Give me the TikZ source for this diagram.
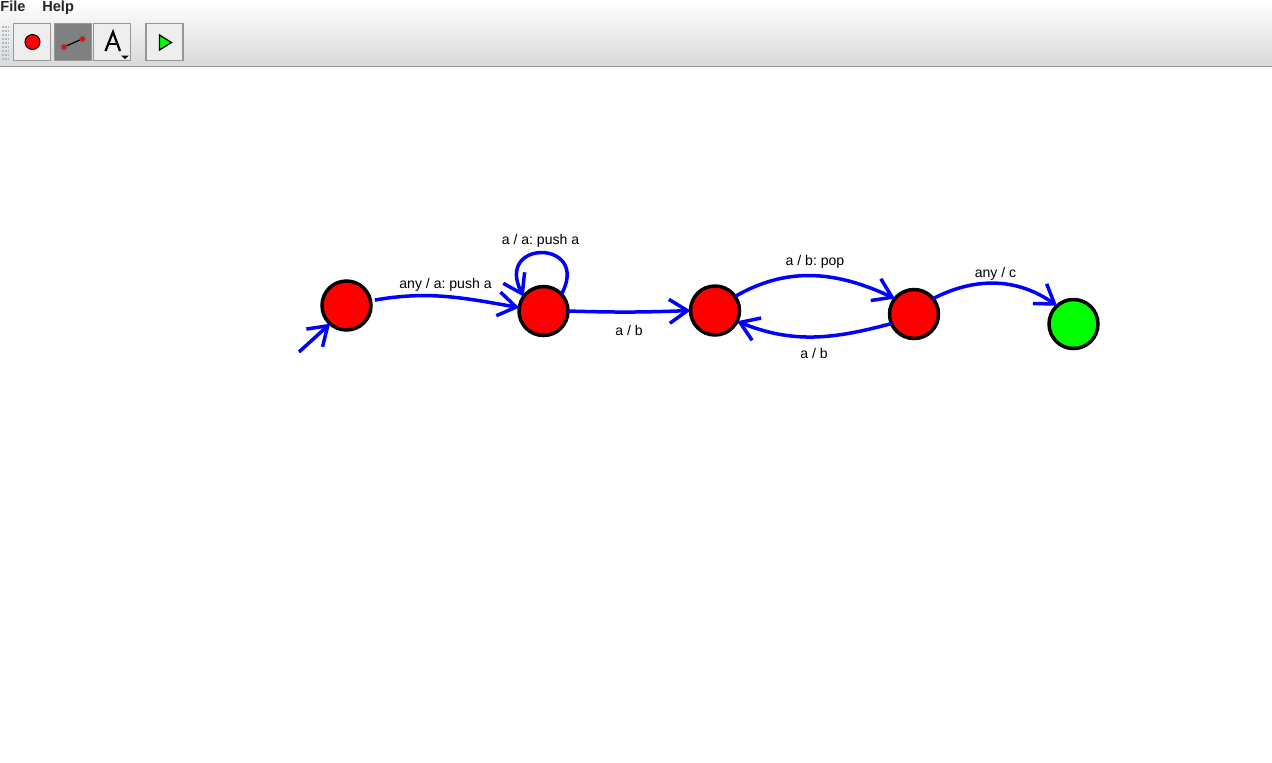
\documentclass[tikz,border=0pt]{standalone}
\usepackage{fontspec}
\setmainfont{Liberation Sans}
\usetikzlibrary{arrows.meta}
\definecolor{edgeblue}{RGB}{0,0,255}
\definecolor{barface}{RGB}{238,238,238}
\definecolor{barpress}{RGB}{128,128,128}
\definecolor{barline}{RGB}{150,150,150}
\definecolor{griptone}{RGB}{170,185,200}
\tikzset{
  state/.style={circle,draw=black,fill=red,line width=0.07cm,minimum size=0.98cm,inner sep=0pt,outer sep=0pt},
  trans/.style={draw=edgeblue,line width=0.07cm,-{Straight Barb[length=0.36cm,width=0.48cm,line width=0.07cm]}},
  lbl/.style={font=\fontsize{8pt}{9pt}\selectfont\frenchspacing,inner sep=0pt},
  menu/.style={font=\fontsize{8.3pt}{9pt}\selectfont\bfseries,text=black!85,inner sep=0pt},
  btn/.style={draw=barline,fill=barface,line width=0.03cm,minimum size=0.74cm,inner sep=0pt,outer sep=0pt}
}
\begin{document}
\begin{tikzpicture}[x=0.02cm,y=0.02cm]
\useasboundingbox (0,-762) rectangle (1272,0);
\clip (0,-762) rectangle (1272,0);
\fill[white] (0,-762) rectangle (1272,0);
% toolbar
\shade[top color=white,bottom color=black!15] (0,-66) rectangle (1272,0);
\draw[barline,line width=0.03cm] (0,-66.5)--(1272,-66.5);
\foreach \gx in {2.5,5,7.5}
  \foreach \gy in {26,30,...,60}
    \fill[griptone] (\gx,-\gy) rectangle +(1.5,-1.5);
\node[menu,anchor=base west] (filemenu) at (0,-11) {File};
\node[menu,anchor=base west] (helpmenu) at (42,-11) {Help};
\node[btn] (btnstate) at (32,-42) {};
\node[btn,fill=barpress] (btnedge) at (73,-42) {};
\node[btn] (btntext) at (112,-42) {};
\node[btn] (btnrun) at (164.5,-42) {};
% icons
\filldraw[draw=black,fill=red,line width=0.02cm] (32.5,-42) circle (7.5);
\draw[black,line width=0.025cm] (64,-47)--(82,-39);
\filldraw[draw=black!60,fill=red,line width=0.01cm] (64,-47) circle (2.8);
\filldraw[draw=black!60,fill=red,line width=0.01cm] (82.5,-39) circle (2.8);
\draw[black,line width=0.045cm] (105.5,-51)--(113,-32)--(120,-51);
\draw[black,line width=0.045cm] (108,-44)--(118,-44);
\fill[black] (121,-55.5)--(129,-55.5)--(125,-59)--cycle;
\filldraw[draw=black,fill=green,line width=0.025cm] (159.5,-35)--(171.5,-42.5)--(159.5,-50)--cycle;
% states
\node[state] (s1) at (346.5,-305.5) {};
\node[state] (s2) at (543.5,-311) {};
\node[state] (s3) at (715,-310.5) {};
\node[state] (s4) at (914,-314) {};
\node[state,fill=green] (s5) at (1073.5,-324) {};
\coordinate (init) at (299,-352);
% transitions
\draw[trans] (init) -- (s1.228);
\draw[trans,shorten <=2.5pt] (s1.11) to[out=10,in=170] (s2.172);
\draw[trans] (s2.43) .. controls +(30,55) and +(-30,58) .. (s2.144);
\draw[trans] (s2.east) to[bend right=2] (s3.west);
\draw[trans] (s3.35) to[out=30,in=155] (s4.141);
\draw[trans] (s4.203) to[out=195,in=-22] (s3.-26);
\draw[trans] (s4.39) to[out=27,in=145] (s5.132);
% labels
\node[lbl] (l12) at (445.5,-285) {any / a: push a};
\node[lbl] (l22) at (540.5,-241) {a / a: push a};
\node[lbl] (l23) at (629,-330) {a / b};
\node[lbl] (l34) at (815,-262) {a / b: pop};
\node[lbl] (l43) at (814,-353.5) {a / b};
\node[lbl] (l45) at (995.5,-274) {any / c};
\end{tikzpicture}
\end{document}
